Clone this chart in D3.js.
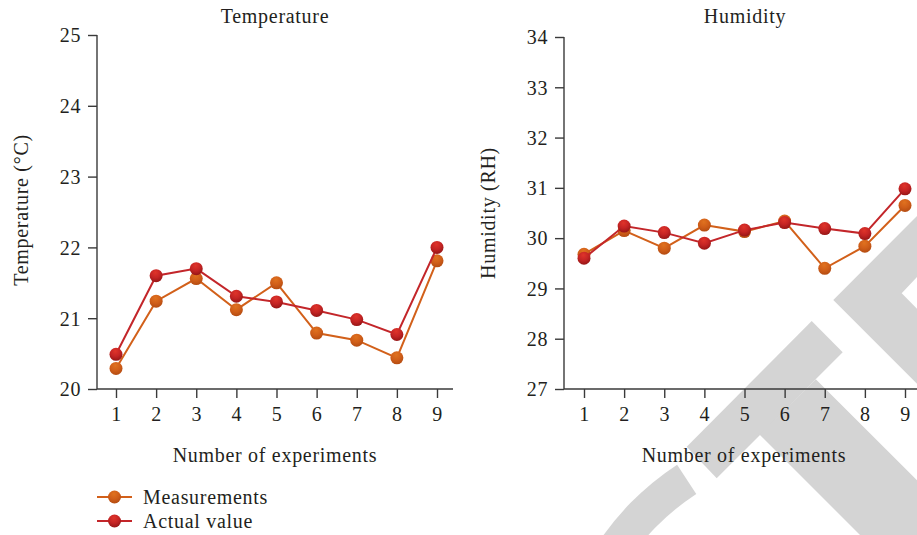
<!DOCTYPE html>
<html>
<head>
<meta charset="utf-8">
<script src="https://cdn.jsdelivr.net/npm/d3@7"></script>
<style>
  html, body { margin: 0; padding: 0; background: #fff; }
  svg { display: block; }
  text { font-family: "Liberation Serif", "Times New Roman", serif; fill: #231f20; }
</style>
</head>
<body>
<svg id="chart" width="917" height="535"></svg>
<script>
// ---------- data ----------
const experiments = [1, 2, 3, 4, 5, 6, 7, 8, 9];
const tempMeasurements = [20.29, 21.24, 21.56, 21.12, 21.50, 20.79, 20.69, 20.44, 21.81];
const tempActual       = [20.49, 21.60, 21.70, 21.31, 21.23, 21.11, 20.98, 20.77, 22.00];
const humMeasurements  = [29.68, 30.15, 29.80, 30.26, 30.13, 30.34, 29.40, 29.84, 30.65];
const humActual        = [29.60, 30.24, 30.11, 29.90, 30.16, 30.31, 30.19, 30.09, 30.98];
const tempTicks = [20, 21, 22, 23, 24, 25];
const humTicks  = [27, 28, 29, 30, 31, 32, 33, 34];
const seriesNames = ["Measurements", "Actual value"];
const titles = ["Temperature", "Humidity"];
const yLabels = ["Temperature (\u00B0C)", "Humidity (RH)"];
const xLabel = "Number of experiments";

const colMeas = "#d2601a";
const colAct = "#c3262a";

const svg = d3.select("#chart");
const defs = svg.append("defs");
function grad(id, light, mid, dark) {
  const g = defs.append("radialGradient").attr("id", id)
    .attr("cx", "45%").attr("cy", "30%").attr("r", "70%").attr("fx", "45%").attr("fy", "25%");
  g.append("stop").attr("offset", "0%").attr("stop-color", light);
  g.append("stop").attr("offset", "55%").attr("stop-color", mid);
  g.append("stop").attr("offset", "100%").attr("stop-color", dark);
}
grad("gMeas", "#e0721f", "#d05e19", "#b44c12");
grad("gAct", "#e0342a", "#c42424", "#961616");

// ---------- watermark (background decoration) ----------
const wm = svg.append("g").attr("fill", "#d4d4d4");
const poly = pts => "M" + pts.map(p => p.join(",")).join("L") + "Z";
// diagonal bar
wm.append("path").attr("d", poly([[811.7,321],[842.7,352.3],[716.7,478.3],[686.7,446.7]]));
// lower-right bar
wm.append("path").attr("d", poly([[757,437],[815.8,379.2],[917,480.3],[917,535],[860,535],[757,432]]));
// chevron
wm.append("path").attr("d", poly([[833.3,300],[917,216],[917,277],[901.7,293.3],[917,308.7],[917,383.7]]));
// arc
wm.append("path").attr("transform", "translate(830,698)")
  .attr("d", d3.arc().innerRadius(244).outerRadius(279).startAngle(-1.45).endAngle(-0.58)());

// ---------- panels ----------
const panels = [
  { x0: 97, xEnd: 453, x1: 116, x9: 437, yTop: 35, yBot: 389, dom: [20, 25], ticks: tempTicks,
    meas: tempMeasurements, act: tempActual, title: titles[0], ylab: yLabels[0],
    titleX: 275, ylabX: 28, ylabY: 210, xlabX: 275 },
  { x0: 564, xEnd: 930, x1: 584, x9: 905, yTop: 37, yBot: 389, dom: [27, 34], ticks: humTicks,
    meas: humMeasurements, act: humActual, title: titles[1], ylab: yLabels[1],
    titleX: 745, ylabX: 495, ylabY: 213, xlabX: 744 }
];

panels.forEach(p => {
  const g = svg.append("g");
  const x = d3.scaleLinear().domain([1, 9]).range([p.x1, p.x9]);
  const y = d3.scaleLinear().domain(p.dom).range([p.yBot, p.yTop]);

  // y axis
  const ya = g.append("g").attr("transform", `translate(${p.x0},0)`)
    .call(d3.axisLeft(y).tickValues(p.ticks).tickSize(9).tickPadding(7).tickFormat(d3.format("d")));
  ya.select(".domain").attr("d", `M0,${p.yTop}V${p.yBot}`);
  // x axis
  const xa = g.append("g").attr("transform", `translate(0,${p.yBot})`)
    .call(d3.axisBottom(x).tickValues(experiments).tickSize(9).tickPadding(9).tickFormat(d3.format("d")));
  xa.select(".domain").attr("d", `M${p.x0},0H${p.xEnd}`);
  g.selectAll(".domain, .tick line").attr("stroke", "#3a3a3a").attr("stroke-width", 1.4);
  g.selectAll(".tick text").attr("font-size", 20).attr("letter-spacing", "0.6px")
    .attr("font-family", "Liberation Serif, serif").attr("fill", "#231f20");
  ya.selectAll(".tick text").attr("dy", "0.34em");
  xa.selectAll(".tick text").attr("dy", "0.72em");

  // title
  g.append("text").attr("x", p.titleX).attr("y", 23).attr("text-anchor", "middle")
    .attr("font-size", 20).attr("letter-spacing", "0.7px").text(p.title);
  // y label
  g.append("text").attr("transform", `translate(${p.ylabX},${p.ylabY}) rotate(-90)`)
    .attr("text-anchor", "middle").attr("font-size", 20).attr("letter-spacing", "0.7px").text(p.ylab);
  // x label
  g.append("text").attr("x", p.xlabX).attr("y", 462).attr("text-anchor", "middle")
    .attr("font-size", 20).attr("letter-spacing", "0.7px").text(xLabel);

  const line = d3.line().x((d, i) => x(experiments[i])).y(d => y(d));
  [[p.meas, colMeas, "gMeas"], [p.act, colAct, "gAct"]].forEach(([vals, col, gid]) => {
    g.append("path").datum(vals).attr("d", line).attr("fill", "none")
      .attr("stroke", col).attr("stroke-width", 2);
    g.selectAll(null).data(vals).enter().append("circle")
      .attr("cx", (d, i) => x(experiments[i])).attr("cy", d => y(d)).attr("r", 6.5)
      .attr("fill", `url(#${gid})`);
  });
});

// ---------- legend ----------
const leg = svg.append("g");
const legRows = [[seriesNames[0], colMeas, "gMeas", 497], [seriesNames[1], colAct, "gAct", 521]];
legRows.forEach(([name, col, gid, yy]) => {
  leg.append("line").attr("x1", 97).attr("x2", 132).attr("y1", yy).attr("y2", yy)
    .attr("stroke", col).attr("stroke-width", 2);
  leg.append("circle").attr("cx", 114.5).attr("cy", yy).attr("r", 6.5).attr("fill", `url(#${gid})`);
  leg.append("text").attr("x", 143).attr("y", yy + 6.5).attr("font-size", 20)
    .attr("letter-spacing", "0.7px").text(name);
});
</script>
</body>
</html>
